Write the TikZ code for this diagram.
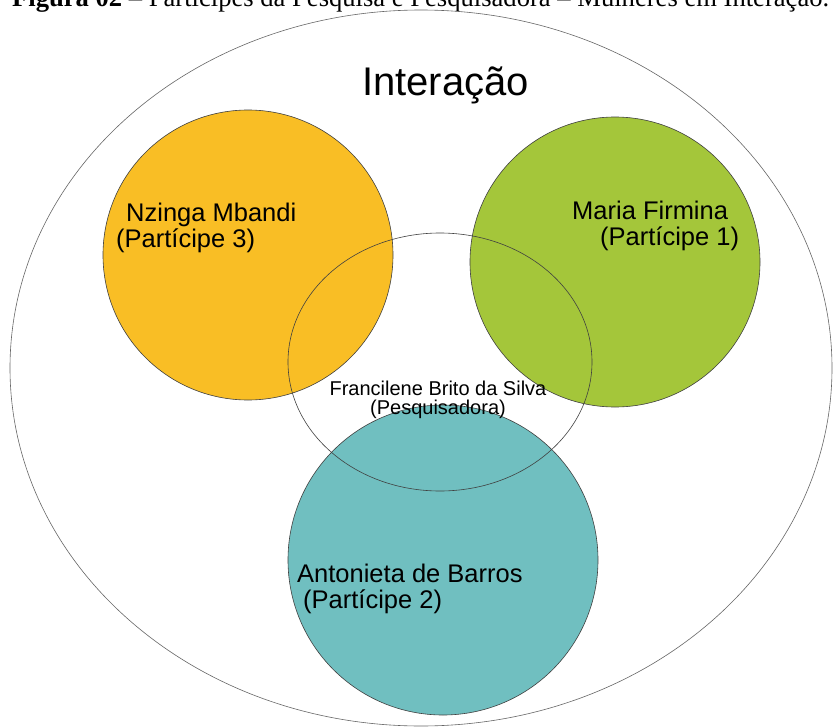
\documentclass[tikz,border=0pt]{standalone}
\usepackage{fontspec}
\setmainfont{Liberation Serif}
\newfontfamily\arialfont{Liberation Sans}
\definecolor{amarelo}{HTML}{F9BE25}
\definecolor{verde}{HTML}{A4C63A}
\definecolor{azul}{HTML}{70BFC0}
\tikzset{
  circulo/.style={draw=black!75, line width=0.6pt},
  rotulo/.style={inner sep=0pt, anchor=base west, align=left, font=\arialfont\fontsize{25.5}{26}\selectfont}
}
\begin{document}
\begin{tikzpicture}[x=1pt,y=-1pt]
\useasboundingbox (0,0) rectangle (833,728);
\node[inner sep=0pt, anchor=base west, font=\fontsize{26.6}{30}\selectfont] (titulo) at (12,6)
  {\textbf{Figura 02} -- Partícipes da Pesquisa e Pesquisadora -- Mulheres em Interação.};

\draw[black!60, line width=0.6pt, fill=white] (421,368) ellipse [x radius=411, y radius=358];

\coordinate (p3) at (248,255);
\coordinate (p1) at (615,262);
\coordinate (p2) at (443,560);
\coordinate (pesq) at (440,362);

\draw[circulo, fill=amarelo] (p3) circle [radius=145];
\draw[circulo, fill=verde] (p1) circle [radius=145];
\draw[circulo, fill=azul] (p2) circle [radius=155];
\draw[black!75, line width=0.6pt] (pesq) ellipse [x radius=152, y radius=129];

\node[inner sep=0pt, anchor=base west, font=\arialfont\fontsize{40}{44}\selectfont] (interacao) at (362,95) {Interação};
\node[rotulo] (nzinga) at (116,247) {\hspace{10pt}Nzinga Mbandi\\(Partícipe 3)};
\node[rotulo] (maria) at (572,245) {Maria Firmina\\\hspace{28pt}(Partícipe 1)};
\node[rotulo] (antonieta) at (297,608) {Antonieta de Barros\\\hspace{6pt}(Partícipe 2)};
\node[inner sep=0pt, anchor=base, align=center, font=\arialfont\fontsize{20}{19}\selectfont] (francilene) at (438,414)
  {Francilene Brito da Silva\\(Pesquisadora)};
\end{tikzpicture}
\end{document}
